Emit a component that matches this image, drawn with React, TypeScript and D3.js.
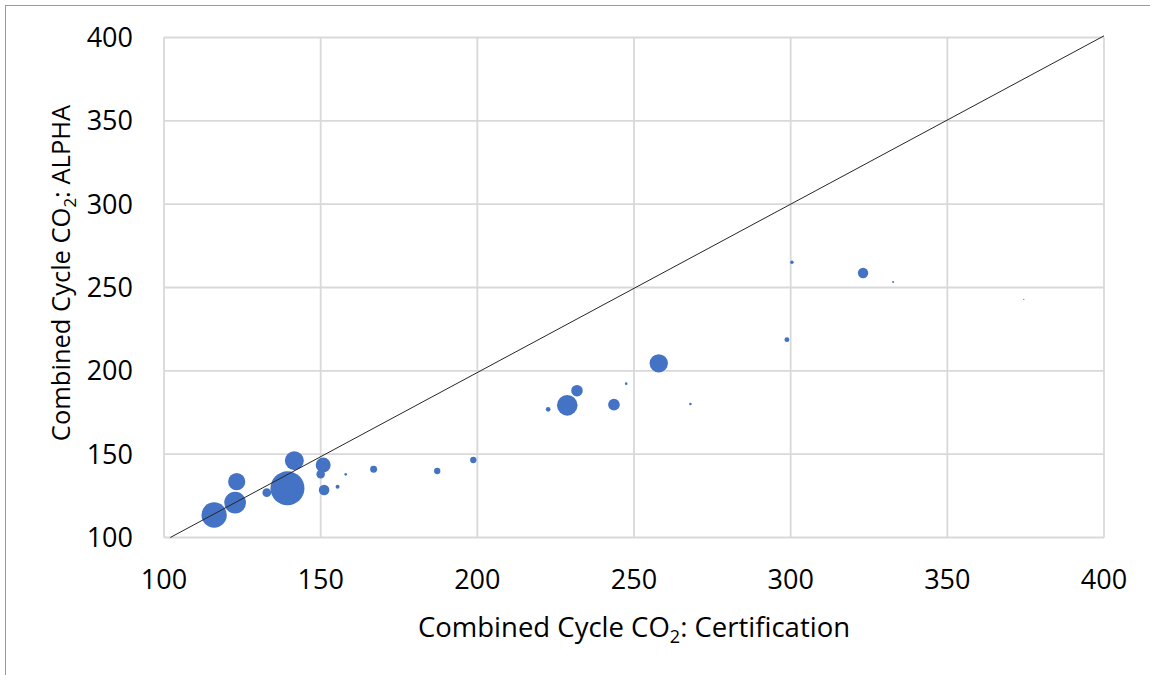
import React from "react";
import * as d3 from "d3";

// Certification vs. ALPHA combined cycle CO2 (g/mi), bubble area = volume
const certification = [116, 122.7, 123.2, 132.8, 139.4, 141.6, 150.8, 150, 151.1, 155.4, 158, 166.9, 187.2, 198.7, 222.6, 228.7, 231.8, 243.6, 247.5, 257.9, 268, 300.4, 323.1, 332.7, 298.8, 374.4];
const alpha = [113.5, 120.9, 133.5, 126.9, 129.5, 146.1, 143.5, 137.9, 128.5, 130.5, 137.9, 140.9, 139.9, 146.5, 176.9, 179.3, 188.1, 179.7, 192.3, 204.5, 180.1, 265.1, 258.7, 253.3, 218.7, 242.9];
const volume = [160, 118, 74, 19, 289, 90, 56, 18, 28, 4, 1.7, 12, 10, 10, 5.5, 106, 33, 34, 1.7, 84, 1.7, 3.2, 27, 1, 6, 0.4];

const xTicks = [100, 150, 200, 250, 300, 350, 400];
const yTicks = [100, 150, 200, 250, 300, 350, 400];

// Parity reference line
const parityLine = [
  { x: 102, y: 100 },
  { x: 400, y: 401 },
];

const FONT = "'Open Sans', sans-serif";

export default function App() {
  const width = 1150;
  const height = 675;
  const x = d3.scaleLinear().domain([100, 400]).range([164, 1104]);
  const y = d3.scaleLinear().domain([100, 400]).range([537.5, 37.5]);
  const r = d3.scaleSqrt().domain([0, d3.max(volume) as number]).range([0, 17]);

  const points = certification.map((c, i) => ({ c, a: alpha[i], v: volume[i] }));
  const sorted = [...points].sort((p, q) => q.v - p.v);

  const line = d3
    .line<{ x: number; y: number }>()
    .x((d) => x(d.x))
    .y((d) => y(d.y));

  return (
    <svg
      width={width}
      height={height}
      style={{ position: "fixed", left: 0, top: 0, background: "#fff" }}
    >
      <rect x={5.5} y={5.5} width={width} height={height} fill="#fff" stroke="#9a9a9a" strokeWidth={1} />

      {/* gridlines */}
      {xTicks.map((t) => (
        <line key={"gx" + t} x1={x(t)} x2={x(t)} y1={y(400)} y2={y(100)} stroke="#d9d9d9" strokeWidth={1.8} />
      ))}
      {yTicks.map((t) => (
        <line key={"gy" + t} x1={x(100)} x2={x(400)} y1={y(t)} y2={y(t)} stroke="#d9d9d9" strokeWidth={1.8} />
      ))}

      {/* bubbles */}
      {sorted.map((p, i) => (
        <circle key={i} cx={x(p.c)} cy={y(p.a)} r={r(p.v)} fill="#4472C4" />
      ))}

      <path d={line(parityLine) || ""} fill="none" stroke="#262626" strokeWidth={1} />

      {/* tick labels */}
      {yTicks.map((t) => (
        <text key={"ty" + t} x={133} y={y(t)} dy="0.35em" textAnchor="end" fontFamily={FONT} fontSize={27} fill="#000">
          {t}
        </text>
      ))}
      {xTicks.map((t) => (
        <text key={"tx" + t} x={x(t)} y={580} dy="0.35em" textAnchor="middle" fontFamily={FONT} fontSize={27} fill="#000">
          {t}
        </text>
      ))}

      {/* axis titles */}
      <text x={634} y={637} textAnchor="middle" fontFamily={FONT} fontSize={27.5} fill="#000">
        Combined Cycle CO<tspan fontSize={18} dy={6}>2</tspan>
        <tspan dy={-6}>: Certification</tspan>
      </text>
      <text
        transform={`translate(70, 273) rotate(-90)`}
        textAnchor="middle"
        fontFamily={FONT}
        fontSize={25.5}
        fill="#000"
      >
        Combined Cycle CO<tspan fontSize={17} dy={6}>2</tspan>
        <tspan dy={-6}>: ALPHA</tspan>
      </text>
    </svg>
  );
}
